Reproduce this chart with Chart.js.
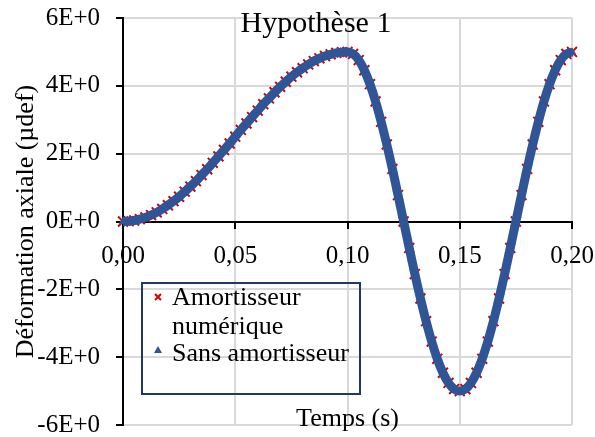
<!DOCTYPE html>
<html>
<head>
<meta charset="utf-8">
<script src="https://cdn.jsdelivr.net/npm/chart.js@4.4.1/dist/chart.umd.min.js"></script>
<style>
  html, body { margin: 0; padding: 0; background: #fff; }
</style>
</head>
<body>
<canvas id="deformChart" width="595" height="437"></canvas>
<script>
// temps (s)
const temps = [
  0, 0.0025, 0.005, 0.0075, 0.01, 0.0125, 0.015, 0.0175, 0.02, 0.0225,
  0.025, 0.0275, 0.03, 0.0325, 0.035, 0.0375, 0.04, 0.0425, 0.045, 0.0475,
  0.05, 0.0525, 0.055, 0.0575, 0.06, 0.0625, 0.065, 0.0675, 0.07, 0.0725,
  0.075, 0.0775, 0.08, 0.0825, 0.085, 0.0875, 0.09, 0.0925, 0.095, 0.0975,
  0.1, 0.1025, 0.105, 0.1075, 0.11, 0.1125, 0.115, 0.1175, 0.12, 0.1225,
  0.125, 0.1275, 0.13, 0.1325, 0.135, 0.1375, 0.14, 0.1425, 0.145, 0.1475,
  0.15, 0.1525, 0.155, 0.1575, 0.16, 0.1625, 0.165, 0.1675, 0.17, 0.1725,
  0.175, 0.1775, 0.18, 0.1825, 0.185, 0.1875, 0.19, 0.1925, 0.195, 0.1975,
  0.2
];

// déformation axiale (µdef)
const amortisseurNumerique = [
  0, 0.01, 0.03, 0.07, 0.12, 0.19, 0.27, 0.37, 0.48, 0.60,
  0.73, 0.88, 1.03, 1.19, 1.37, 1.54, 1.73, 1.92, 2.11, 2.30,
  2.50, 2.70, 2.89, 3.08, 3.27, 3.46, 3.63, 3.81, 3.97, 4.12,
  4.27, 4.40, 4.52, 4.63, 4.73, 4.81, 4.88, 4.93, 4.97, 4.99,
  5.00, 4.94, 4.76, 4.46, 4.05, 3.54, 2.94, 2.27, 1.55, 0.78,
  0, -0.78, -1.55, -2.27, -2.94, -3.54, -4.05, -4.46, -4.76, -4.94,
  -5.00, -4.94, -4.76, -4.46, -4.05, -3.54, -2.94, -2.27, -1.55, -0.78,
  0, 0.78, 1.55, 2.27, 2.94, 3.54, 4.05, 4.46, 4.76, 4.94,
  5.00
];
const sansAmortisseur = [
  0, 0.01, 0.03, 0.07, 0.12, 0.19, 0.27, 0.37, 0.48, 0.60,
  0.73, 0.88, 1.03, 1.19, 1.37, 1.54, 1.73, 1.92, 2.11, 2.30,
  2.50, 2.70, 2.89, 3.08, 3.27, 3.46, 3.63, 3.81, 3.97, 4.12,
  4.27, 4.40, 4.52, 4.63, 4.73, 4.81, 4.88, 4.93, 4.97, 4.99,
  5.00, 4.94, 4.76, 4.46, 4.05, 3.54, 2.94, 2.27, 1.55, 0.78,
  0, -0.78, -1.55, -2.27, -2.94, -3.54, -4.05, -4.46, -4.76, -4.94,
  -5.00, -4.94, -4.76, -4.46, -4.05, -3.54, -2.94, -2.27, -1.55, -0.78,
  0, 0.78, 1.55, 2.27, 2.94, 3.54, 4.05, 4.46, 4.76, 4.94,
  5.00
];

const xTicks = [0, 0.05, 0.1, 0.15, 0.2];
const yTicks = [-6, -4, -2, 0, 2, 4, 6];
const seriesNames = ["Amortisseur numérique", "Sans amortisseur"];
const legendLines = [["Amortisseur", "numérique"], ["Sans amortisseur"]];
const chartTitle = "Hypothèse 1";
const xTitle = "Temps (s)";
const yTitle = "Déformation axiale (µdef)";

const RED = "#d40000";
const BLUE = "#2f5597";
const SERIF = "'Liberation Serif', 'Times New Roman', serif";

Chart.defaults.font.family = SERIF;
Chart.defaults.color = "#000";

const toPoints = (ys) => temps.map((t, i) => ({ x: t, y: ys[i] }));

// title, x title and the boxed legend sit inside the plot like in the original
const decorations = {
  id: "decorations",
  afterDraw(chart) {
    const ctx = chart.ctx;
    const area = chart.chartArea;
    ctx.save();
    ctx.fillStyle = "#000";
    ctx.textBaseline = "alphabetic";

    ctx.font = "30px " + SERIF;
    ctx.textAlign = "center";
    ctx.fillText(chartTitle, 316, 32);

    ctx.font = "26px " + SERIF;
    ctx.fillText(xTitle, (area.left + area.right) / 2, 426);

    // legend box
    ctx.strokeStyle = "#1f3864";
    ctx.lineWidth = 2;
    ctx.strokeRect(142, 283, 218, 111);

    ctx.textAlign = "left";
    ctx.fillText(legendLines[0][0], 172, 305);
    ctx.fillText(legendLines[0][1], 172, 334);
    ctx.fillText(legendLines[1][0], 172, 361);

    ctx.strokeStyle = RED;
    ctx.lineWidth = 2;
    ctx.beginPath();
    ctx.moveTo(155, 294); ctx.lineTo(161, 300);
    ctx.moveTo(161, 294); ctx.lineTo(155, 300);
    ctx.stroke();

    ctx.fillStyle = BLUE;
    ctx.beginPath();
    ctx.moveTo(158, 346); ctx.lineTo(162, 353); ctx.lineTo(154, 353);
    ctx.closePath();
    ctx.fill();
    ctx.restore();
  }
};

new Chart(document.getElementById("deformChart"), {
  type: "scatter",
  data: {
    datasets: [
      {
        label: seriesNames[0],
        data: toPoints(amortisseurNumerique),
        showLine: false,
        pointStyle: "crossRot",
        pointRadius: 7,
        pointBorderWidth: 2,
        borderColor: RED,
        backgroundColor: RED,
        order: 2,
        clip: false
      },
      {
        label: seriesNames[1],
        data: toPoints(sansAmortisseur),
        showLine: true,
        tension: 0.3,
        borderWidth: 9,
        borderColor: BLUE,
        backgroundColor: BLUE,
        pointStyle: "triangle",
        pointRadius: 4,
        pointBorderWidth: 1,
        pointBorderColor: BLUE,
        order: 1,
        clip: false
      }
    ]
  },
  options: {
    responsive: false,
    animation: false,
    layout: { padding: { left: 0, right: 23, top: 18, bottom: 12 } },
    plugins: {
      legend: { display: false },
      title: { display: false },
      tooltip: { enabled: false }
    },
    scales: {
      x: {
        type: "linear",
        position: { y: 0 },
        min: 0,
        max: 0.2,
        afterBuildTicks: (s) => { s.ticks = xTicks.map((v) => ({ value: v })); },
        afterFit: (s) => { s.paddingLeft = 0; s.paddingRight = 0; },
        ticks: {
          font: { size: 25 },
          padding: 14,
          maxRotation: 0,
          callback: (v) => v.toFixed(2).replace(".", ",")
        },
        grid: { color: "#d9d9d9", lineWidth: 2, tickColor: "#000", tickLength: 6, tickWidth: 2 },
        border: { color: "#000", width: 2 }
      },
      y: {
        min: -6,
        max: 6,
        afterBuildTicks: (s) => { s.ticks = yTicks.map((v) => ({ value: v })); },
        afterFit: (s) => { s.width = 123; s.paddingTop = 0; s.paddingBottom = 0; },
        ticks: {
          font: { size: 25 },
          padding: 16,
          callback: (v) => v + "E+0"
        },
        title: {
          display: true,
          text: yTitle,
          font: { size: 26 },
          padding: { top: 11, bottom: 0 }
        },
        grid: { color: "#d9d9d9", lineWidth: 2, tickColor: "#000", tickLength: 7, tickWidth: 2 },
        border: { color: "#000", width: 2 }
      }
    }
  },
  plugins: [decorations]
});
</script>
</body>
</html>
